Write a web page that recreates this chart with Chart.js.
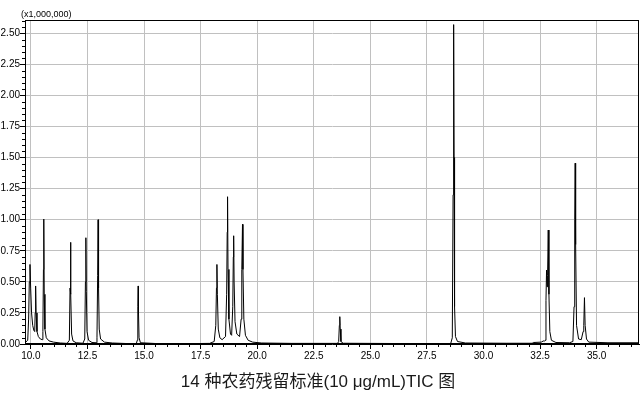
<!DOCTYPE html>
<html>
<head>
<meta charset="utf-8">
<script src="https://cdn.jsdelivr.net/npm/chart.js@4.4.1/dist/chart.umd.min.js"></script>
<style>
html,body{margin:0;padding:0;background:#fff;}
#wrap{width:644px;height:395px;position:relative;}
</style>
</head>
<body>
<div id="wrap"><canvas id="c" width="644" height="395"></canvas></div>
<script>
// Retention time (min) of each trace point
const retentionTimes = [
  9.74, 9.86, 9.90, 9.93, 9.96, 9.99, 10.03, 10.08, 10.13, 10.17,
  10.19, 10.21, 10.23, 10.27, 10.33, 10.42, 10.50, 10.53, 10.555, 10.57,
  10.59, 10.62, 10.68, 10.80, 11.00, 11.30, 11.60, 11.70, 11.73, 11.75,
  11.77, 11.80, 11.86, 12.00, 12.30, 12.38, 12.41, 12.43, 12.45, 12.48,
  12.55, 12.70, 12.88, 12.92, 12.95, 12.97, 12.99, 13.02, 13.08, 13.25,
  13.60, 14.20, 14.66, 14.70, 14.725, 14.74, 14.755, 14.78, 14.84, 15.50,
  17.00, 17.90, 18.10, 18.17, 18.20, 18.22, 18.24, 18.28, 18.35, 18.45,
  18.60, 18.65, 18.675, 18.69, 18.71, 18.75, 18.82, 18.87, 18.92, 18.945,
  18.96, 18.98, 19.02, 19.10, 19.22, 19.29, 19.32, 19.35, 19.37, 19.41,
  19.48, 19.60, 19.80, 20.20, 21.50, 23.55, 23.60, 23.63, 23.65, 23.67,
  23.70, 23.80, 26.00, 28.55, 28.62, 28.655, 28.68, 28.70, 28.72, 28.76,
  28.85, 29.20, 31.00, 32.15, 32.20, 32.55, 32.65, 32.68, 32.72, 32.76,
  32.785, 32.81, 32.83, 32.86, 32.89, 32.93, 33.00, 33.20, 33.80, 33.95,
  34.00, 34.03, 34.05, 34.07, 34.11, 34.20, 34.32, 34.40, 34.43, 34.46,
  34.49, 34.55, 34.65, 35.50, 36.87
];
// TIC intensity (x1,000,000) at each point
const ticIntensity = [
  0.010, 0.030, 0.200, 0.500, 0.640, 0.450, 0.250, 0.150, 0.110, 0.100,
  0.250, 0.467, 0.250, 0.100, 0.060, 0.040, 0.035, 0.100, 0.600, 1.005,
  0.400, 0.120, 0.050, 0.025, 0.015, 0.008, 0.005, 0.030, 0.450, 0.818,
  0.400, 0.080, 0.025, 0.010, 0.006, 0.040, 0.500, 0.855, 0.420, 0.100,
  0.030, 0.012, 0.010, 0.050, 0.550, 1.000, 0.450, 0.120, 0.040, 0.015,
  0.008, 0.004, 0.004, 0.030, 0.300, 0.467, 0.250, 0.050, 0.010, 0.004,
  0.003, 0.005, 0.020, 0.150, 0.450, 0.640, 0.400, 0.120, 0.050, 0.035,
  0.060, 0.400, 0.900, 1.185, 0.600, 0.200, 0.080, 0.070, 0.300, 0.700,
  0.871, 0.500, 0.180, 0.080, 0.060, 0.200, 0.600, 0.963, 0.600, 0.200,
  0.070, 0.030, 0.015, 0.008, 0.005, 0.005, 0.020, 0.150, 0.220, 0.120,
  0.020, 0.006, 0.004, 0.004, 0.050, 1.200, 2.570, 1.500, 0.300, 0.060,
  0.020, 0.008, 0.006, 0.006, 0.012, 0.015, 0.025, 0.020, 0.030, 0.350,
  0.595, 0.460, 0.550, 0.917, 0.400, 0.100, 0.030, 0.012, 0.010, 0.020,
  0.300, 1.000, 1.455, 0.800, 0.150, 0.040, 0.035, 0.100, 0.150, 0.373,
  0.150, 0.040, 0.015, 0.010, 0.010
];
const xTickValues = [10, 12.5, 15, 17.5, 20, 22.5, 25, 27.5, 30, 32.5, 35];
const yTickValues = [0, 0.25, 0.5, 0.75, 1.0, 1.25, 1.5, 1.75, 2.0, 2.25, 2.5];
const yUnitLabel = '(x1,000,000)';
const chartTitle = '14 种农药残留标准(10 μg/mL)TIC 图';

const points = retentionTimes.map((t, i) => ({x: t, y: ticIntensity[i]}));

const framePlugin = {
  id: 'frame',
  afterDraw(chart) {
    const ctx = chart.ctx, a = chart.chartArea;
    const xs = chart.scales.x, ys = chart.scales.y;
    ctx.save();
    ctx.strokeStyle = '#000';
    ctx.lineWidth = 1;
    // frame
    ctx.strokeRect(Math.round(a.left) + 0.5, Math.round(a.top) + 0.5,
      Math.round(a.right - a.left) - 1, Math.round(a.bottom - a.top) - 1);
    // minor ticks
    ctx.beginPath();
    for (let v = 10; v <= xs.max + 1e-9; v += 0.5) {
      if (Math.abs(v / 2.5 - Math.round(v / 2.5)) < 1e-6) continue;
      const px = Math.round(xs.getPixelForValue(v)) + 0.5;
      ctx.moveTo(px, a.bottom);
      ctx.lineTo(px, a.bottom + 3);
    }
    for (let v = 0; v <= ys.max + 1e-9; v += 0.05) {
      if (Math.abs(v / 0.25 - Math.round(v / 0.25)) < 1e-6) continue;
      const py = Math.round(ys.getPixelForValue(v)) + 0.5;
      ctx.moveTo(a.left - 3, py);
      ctx.lineTo(a.left, py);
    }
    ctx.stroke();
    // unit label
    ctx.fillStyle = '#000';
    ctx.font = '9px "Liberation Sans", Arial, sans-serif';
    ctx.textBaseline = 'middle';
    ctx.textAlign = 'left';
    ctx.fillText(yUnitLabel, a.left - 4, a.top - 5);
    // title
    ctx.fillStyle = '#1a1a1a';
    ctx.font = '17px "Liberation Sans", "Noto Sans CJK SC", sans-serif';
    ctx.textAlign = 'center';
    ctx.textBaseline = 'middle';
    ctx.fillText(chartTitle, 318, 382);
    ctx.restore();
  }
};

new Chart(document.getElementById('c'), {
  type: 'line',
  data: {
    datasets: [{
      data: points,
      borderColor: '#000',
      borderWidth: 1,
      pointRadius: 0,
      tension: 0,
      fill: false
    }]
  },
  options: {
    responsive: false,
    animation: false,
    parsing: false,
    normalized: true,
    layout: {padding: {top: 20, right: 5, left: 0, bottom: 33}},
    plugins: {
      legend: {display: false},
      tooltip: {enabled: false},
      title: {display: false}
    },
    scales: {
      x: {
        type: 'linear',
        min: 9.74,
        max: 36.87,
        afterBuildTicks(s) { s.ticks = xTickValues.map(v => ({value: v})); },
        afterFit(s) { s.height = 18; },
        ticks: {
          color: '#000',
          padding: 1,
          maxRotation: 0,
          autoSkip: false,
          font: {family: '"Liberation Sans", Arial, sans-serif', size: 10},
          callback: v => Number(v).toFixed(1)
        },
        grid: {color: '#c0c0c0', tickColor: '#000', tickLength: 5, lineWidth: 1},
        border: {display: true, color: '#000'}
      },
      y: {
        type: 'linear',
        min: 0,
        max: 2.607,
        afterBuildTicks(s) { s.ticks = yTickValues.map(v => ({value: v})); },
        afterFit(s) { s.width = 25; },
        ticks: {
          color: '#000',
          padding: 0,
          autoSkip: false,
          font: {family: '"Liberation Sans", Arial, sans-serif', size: 10},
          callback: v => Number(v).toFixed(2)
        },
        grid: {color: '#c0c0c0', tickColor: '#000', tickLength: 5, lineWidth: 1},
        border: {display: true, color: '#000'}
      }
    }
  },
  plugins: [framePlugin]
});
</script>
</body>
</html>
